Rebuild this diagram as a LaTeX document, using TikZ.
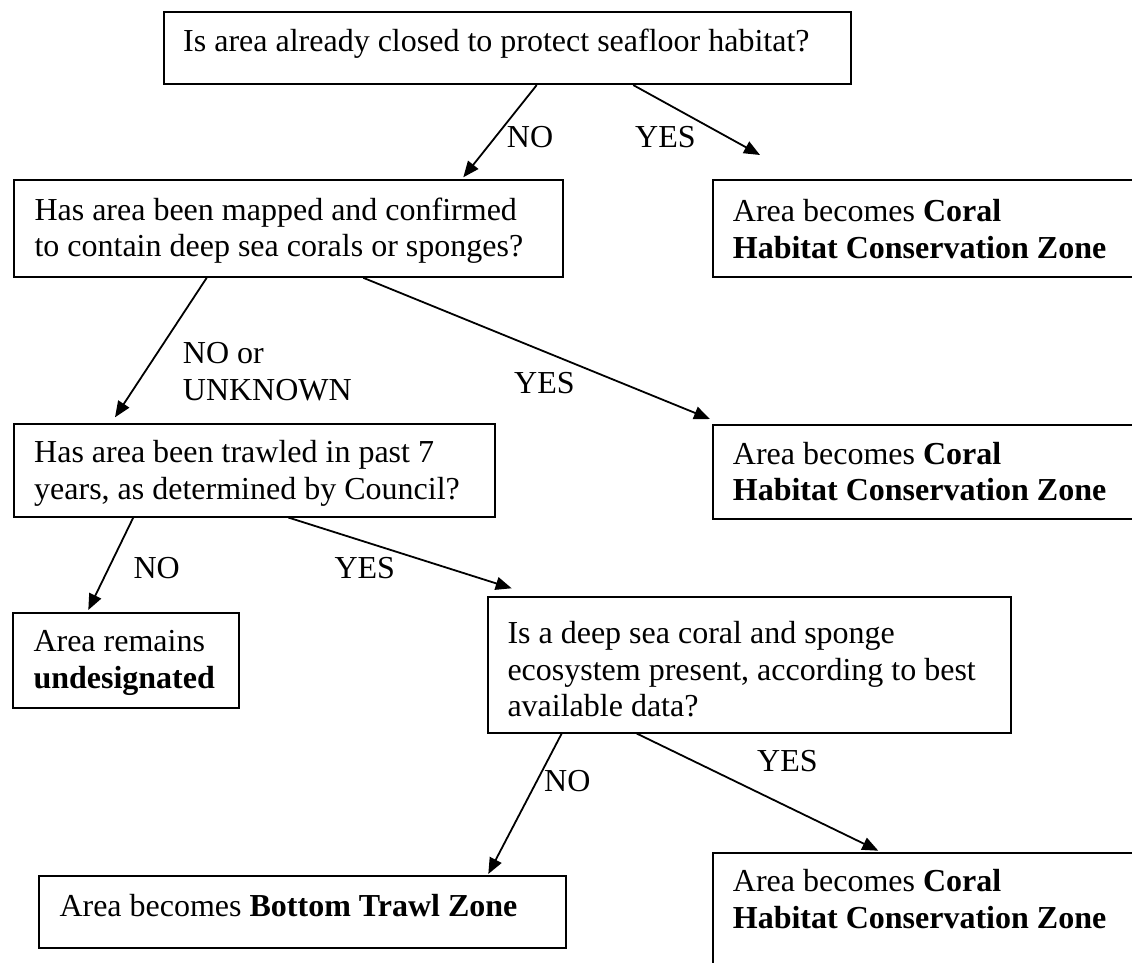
\documentclass[tikz,border=0pt]{standalone}
\usepackage{fontspec}
\setmainfont{Liberation Serif}
\usetikzlibrary{arrows.meta,calc}
\newcommand\fl{\rule{0pt}{25pt}}
\begin{document}
\begin{tikzpicture}[x=1pt,y=-1pt,
  box/.style={draw,line width=1.8pt,rectangle,inner sep=0pt,anchor=north west},
  txt/.style={inner sep=0pt,anchor=north west,align=left,font=\fontsize{32}{36.7}\selectfont},
  lbl/.style={inner sep=0pt,anchor=base west,font=\fontsize{32}{36.7}\selectfont},
  arr/.style={line width=1.8pt,-{Triangle[length=16pt,width=13pt]}}]
\clip (0,0) rectangle (1132,962);
\fill[white] (0,0) rectangle (1132,962);
% boxes
\node[box,minimum width=687pt,minimum height=72.3pt] (b1) at (163,11) {};
\node[box,minimum width=548.7pt,minimum height=96.7pt] (b2) at (13.3,179.3) {};
\node[box,minimum width=460pt,minimum height=96.4pt] (b3) at (711.7,179.3) {};
\node[box,minimum width=481.3pt,minimum height=92.4pt] (b4) at (12.7,423.3) {};
\node[box,minimum width=460pt,minimum height=94pt] (b5) at (711.7,424) {};
\node[box,minimum width=226.3pt,minimum height=95.6pt] (b6) at (12,611.7) {};
\node[box,minimum width=523.3pt,minimum height=135.7pt] (b7) at (486.7,596) {};
\node[box,minimum width=527.3pt,minimum height=72.3pt] (b8) at (37.7,875) {};
\node[box,minimum width=460pt,minimum height=160pt] (b9) at (711.7,851.7) {};
% texts
\node[txt] (t1) at (183,26.7) {\fl Is area already closed to protect seafloor habitat?};
\node[txt] (t2) at (34.3,195) {\fl Has area been mapped and confirmed\\ to contain deep sea corals or sponges?};
\node[txt] (t3) at (732.7,196.7) {\fl Area becomes \textbf{Coral}\\ \textbf{Habitat Conservation Zone}};
\node[txt] (t4) at (34,437.7) {\fl Has area been trawled in past 7\\ years, as determined by Council?};
\node[txt] (t5) at (732.7,439) {\fl Area becomes \textbf{Coral}\\ \textbf{Habitat Conservation Zone}};
\node[txt] (t6) at (33.3,626.7) {\fl Area remains\\ \textbf{undesignated}};
\node[txt] (t7) at (507.3,618.3) {\fl Is a deep sea coral and sponge\\ ecosystem present, according to best\\ available data?};
\node[txt] (t8) at (59.3,891.7) {\fl Area becomes \textbf{Bottom Trawl Zone}};
\node[txt] (t9) at (732.7,866.7) {\fl Area becomes \textbf{Coral}\\ \textbf{Habitat Conservation Zone}};
% arrows
\draw[arr] ($(b1.south west)+(373.7,0)$) -- ($(b2.north west)+(450,-2)$);
\draw[arr] ($(b1.south west)+(470.3,0)$) -- ($(b3.north west)+(48.3,-24.3)$);
\draw[arr] ($(b2.south west)+(193.4,0)$) -- ($(b4.north west)+(102.3,-6)$);
\draw[arr] ($(b2.south west)+(350,0)$) -- ($(b5.north west)+(-1.7,-5)$);
\draw[arr] ($(b4.south west)+(120.6,0)$) -- ($(b6.north west)+(76.3,-1.7)$);
\draw[arr] ($(b4.south west)+(275.6,0)$) -- ($(b7.north west)+(25,-7.7)$);
\draw[arr] ($(b7.south west)+(75,0)$) -- ($(b8.north west)+(450.6,-1)$);
\draw[arr] ($(b7.south west)+(150,0)$) -- ($(b9.north west)+(166.6,-1)$);
% labels
\node[lbl] (l1) at (506.7,147.3) {NO};
\node[lbl] (l2) at (635,147.3) {YES};
\node[txt] (l3) at (182.7,338.3) {\fl NO or\\ UNKNOWN};
\node[lbl] (l4) at (514,393) {YES};
\node[lbl] (l5) at (133.3,578.3) {NO};
\node[lbl] (l6) at (334.3,578.3) {YES};
\node[lbl] (l7) at (544,791) {NO};
\node[lbl] (l8) at (757,771) {YES};
\end{tikzpicture}
\end{document}
